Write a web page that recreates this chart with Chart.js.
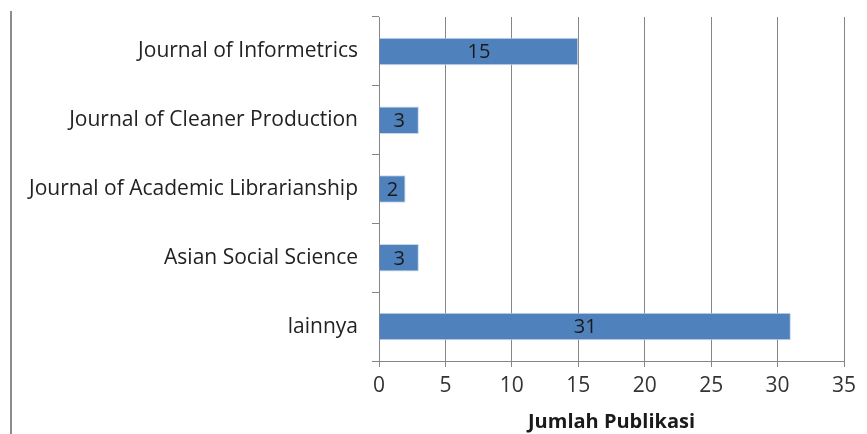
<!DOCTYPE html>
<html>
<head>
<meta charset="utf-8">
<script src="https://cdn.jsdelivr.net/npm/chart.js@4"></script>
<style>
  body { margin: 0; background: #fff; }
  #wrap { position: relative; width: 867px; height: 434px; }
  #leftLine { position: absolute; left: 10px; top: 11px; bottom: 0; width: 2px; background: #8c8c8c; }
</style>
</head>
<body>
<div id="wrap">
  <canvas id="chartCanvas" width="867" height="434"></canvas>
  <div id="leftLine"></div>
</div>
<script>
// Data
const journals = [
    'Journal of Informetrics',
    'Journal of Cleaner Production',
    'Journal of Academic Librarianship',
    'Asian Social Science',
    'lainnya'
];
const publikasi = [15, 3, 2, 3, 31];
const axisTitle = 'Jumlah Publikasi';

const FONT = '"Open Sans", "DejaVu Sans", sans-serif';

// Draw value in the middle of each bar
const barLabels = {
    id: 'barLabels',
    afterDatasetsDraw(chart) {
        const c = chart.ctx;
        const meta = chart.getDatasetMeta(0);
        c.save();
        c.font = '20px ' + FONT;
        c.fillStyle = '#1a1a1a';
        c.textAlign = 'center';
        c.textBaseline = 'middle';
        meta.data.forEach((bar, i) => {
            const mid = (bar.x + bar.base) / 2;
            c.fillText(String(publikasi[i]), mid, bar.y + 1);
        });
        c.restore();
    }
};

const ctx = document.getElementById('chartCanvas').getContext('2d');
new Chart(ctx, {
    type: 'bar',
    data: {
        labels: journals,
        datasets: [{
            data: publikasi,
            backgroundColor: '#4f81bd',
            borderColor: '#c8d6ea',
            borderWidth: 1,
            categoryPercentage: 1,
            barPercentage: 0.4
        }]
    },
    options: {
        indexAxis: 'y',
        responsive: false,
        animation: false,
        layout: { padding: { top: 17, right: 23, left: 0, bottom: 0 } },
        scales: {
            x: {
                min: 0,
                max: 35,
                ticks: { stepSize: 5, color: '#333', font: { family: FONT, size: 21 }, padding: 6 },
                grid: { color: '#868686', lineWidth: 1, tickLength: 6, drawTicks: true },
                border: { color: '#868686' },
                title: {
                    display: true,
                    text: axisTitle,
                    color: '#1a1a1a',
                    font: { family: FONT, size: 20, weight: 'bold' },
                    padding: { top: 0, bottom: 0 }
                },
                afterFit(scale) { scale.height = 73; }
            },
            y: {
                ticks: { color: '#222', font: { family: FONT, size: 21 }, padding: 14 },
                grid: { drawOnChartArea: false, color: '#868686', tickLength: 7, offset: true },
                border: { color: '#868686' },
                afterFit(scale) {
                    scale.width = 379;
                    scale.paddingTop = 0;
                    scale.paddingBottom = 0;
                }
            }
        },
        plugins: {
            legend: { display: false },
            tooltip: { enabled: false }
        }
    },
    plugins: [barLabels]
});
</script>
</body>
</html>
